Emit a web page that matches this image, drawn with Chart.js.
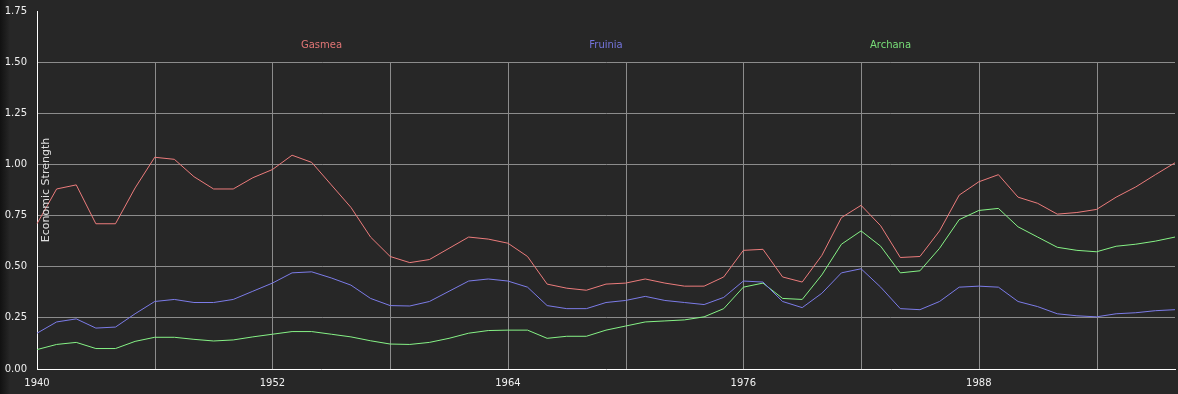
<!DOCTYPE html>
<html>
<head>
<meta charset="utf-8">
<script src="https://cdn.jsdelivr.net/npm/chart.js@4"></script>
<style>
  html, body { margin: 0; padding: 0; background: #272727; }
  #wrap {
    width: 1178px; height: 394px; position: relative;
    background: linear-gradient(to right, #111 0px, #1c1c1c 5px, #272727 10px, #272727 100%);
  }
</style>
</head>
<body>
<div id="wrap"><canvas id="chart"></canvas></div>
<script>
const CHART = document.getElementById("chart");

// one value per year, 1940 - 1998
var years = [1940, 1941, 1942, 1943, 1944, 1945, 1946, 1947, 1948, 1949,
             1950, 1951, 1952, 1953, 1954, 1955, 1956, 1957, 1958, 1959,
             1960, 1961, 1962, 1963, 1964, 1965, 1966, 1967, 1968, 1969,
             1970, 1971, 1972, 1973, 1974, 1975, 1976, 1977, 1978, 1979,
             1980, 1981, 1982, 1983, 1984, 1985, 1986, 1987, 1988, 1989,
             1990, 1991, 1992, 1993, 1994, 1995, 1996, 1997, 1998];

var gasmea = [0.71, 0.88, 0.90, 0.71, 0.71, 0.885, 1.035, 1.025, 0.94, 0.88,
              0.88, 0.935, 0.975, 1.045, 1.01, 0.90, 0.79, 0.645, 0.55, 0.52,
              0.535, 0.59, 0.645, 0.635, 0.615, 0.55, 0.415, 0.395, 0.385, 0.415,
              0.42, 0.44, 0.42, 0.405, 0.405, 0.45, 0.58, 0.585, 0.45, 0.425,
              0.555, 0.74, 0.80, 0.70, 0.545, 0.55, 0.675, 0.85, 0.915, 0.95,
              0.84, 0.81, 0.757, 0.765, 0.78, 0.84, 0.89, 0.95, 1.008];

var fruinia = [0.175, 0.23, 0.245, 0.20, 0.205, 0.27, 0.33, 0.34, 0.325, 0.325,
               0.34, 0.38, 0.42, 0.47, 0.475, 0.445, 0.41, 0.345, 0.31, 0.308,
               0.33, 0.38, 0.43, 0.44, 0.43, 0.40, 0.31, 0.295, 0.295, 0.325,
               0.335, 0.355, 0.335, 0.325, 0.315, 0.35, 0.43, 0.425, 0.33, 0.30,
               0.37, 0.47, 0.49, 0.40, 0.295, 0.29, 0.33, 0.40, 0.405, 0.40,
               0.33, 0.305, 0.27, 0.26, 0.255, 0.27, 0.275, 0.285, 0.29];

var archana = [0.095, 0.12, 0.13, 0.10, 0.10, 0.135, 0.155, 0.155, 0.145, 0.137,
               0.142, 0.157, 0.17, 0.183, 0.183, 0.17, 0.157, 0.138, 0.122, 0.12,
               0.13, 0.15, 0.175, 0.188, 0.19, 0.19, 0.15, 0.16, 0.16, 0.19,
               0.21, 0.23, 0.235, 0.24, 0.255, 0.295, 0.40, 0.42, 0.345, 0.34,
               0.46, 0.61, 0.675, 0.60, 0.47, 0.48, 0.59, 0.73, 0.775, 0.785,
               0.695, 0.645, 0.595, 0.58, 0.573, 0.60, 0.61, 0.625, 0.645];

var names = ['Gasmea', 'Fruinia', 'Archana'];
var lineColors = ['#ec7c7c', '#7c7ce8', '#86f286'];
var textColors = ['#e07575', '#7474dc', '#78de78'];
var yTicks = [0, 0.25, 0.5, 0.75, 1, 1.25, 1.5, 1.75];
var yTitle = 'Economic Strength';

const FONT = '"DejaVu Sans", Verdana, sans-serif';

// vertical grid every 6 years, from 1.50 down to the axis
const vgrid = {
    id: 'vgrid',
    beforeDatasetsDraw(chart) {
        const ctx = chart.ctx, x = chart.scales.x, y = chart.scales.y;
        const top = Math.round(y.getPixelForValue(1.5)) + 0.5;
        const bottom = chart.chartArea.bottom;
        ctx.save();
        ctx.strokeStyle = '#8c8c8c';
        ctx.lineWidth = 1;
        years.forEach(function(yr, i) {
            if (yr === years[0] || (yr - years[0]) % 6 !== 0) return;
            const px = Math.round(x.getPixelForValue(i)) + 0.5;
            ctx.beginPath();
            ctx.moveTo(px, top);
            ctx.lineTo(px, bottom);
            ctx.stroke();
        });
        ctx.restore();
    }
};

// series names inside the plot + rotated axis title
const labels = {
    id: 'labels',
    afterDraw(chart) {
        const ctx = chart.ctx, a = chart.chartArea;
        ctx.save();
        ctx.font = '10px ' + FONT;
        ctx.textAlign = 'center';
        ctx.textBaseline = 'middle';
        names.forEach(function(n, i) {
            ctx.fillStyle = textColors[i];
            ctx.fillText(n, a.left + (a.right - a.left) * (i + 1) / 4, 45);
        });
        ctx.font = '11px ' + FONT;
        ctx.translate(a.left + 9, (a.top + a.bottom) / 2);
        ctx.rotate(-Math.PI / 2);
        ctx.fillStyle = '#e0e0e0';
        ctx.fillText(yTitle, 0, 0);
        ctx.restore();
    }
};

const chart = new Chart(CHART, {
    type: 'line',
    data: {
        labels: years,
        datasets: names.map(function(n, i) {
            return {
                label: n,
                data: [gasmea, fruinia, archana][i],
                borderColor: lineColors[i],
                borderWidth: 1,
                pointRadius: 0,
                tension: 0,
                fill: false
            };
        })
    },
    options: {
        responsive: true,
        maintainAspectRatio: false,
        animation: false,
        layout: { padding: { top: 11, right: 3, left: 0, bottom: 0 } },
        plugins: { legend: { display: false }, tooltip: { enabled: false } },
        scales: {
            x: {
                type: 'category',
                offset: false,
                afterFit: function(s) { s.height = 25; s.paddingLeft = 0; s.paddingRight = 0; },
                grid: { display: false, drawTicks: false },
                border: { display: true, color: '#ffffff', width: 1 },
                ticks: {
                    autoSkip: false,
                    maxRotation: 0,
                    padding: 8,
                    color: '#f0f0f0',
                    font: { family: FONT, size: 10 },
                    callback: function(v, i) {
                        return (years[i] - years[0]) % 12 === 0 ? String(years[i]) : '';
                    }
                }
            },
            y: {
                min: 0,
                max: 1.75,
                afterFit: function(s) { s.width = 37; s.paddingTop = 0; s.paddingBottom = 0; },
                afterBuildTicks: function(s) { s.ticks = yTicks.map(function(v) { return { value: v }; }); },
                grid: {
                    drawTicks: false,
                    lineWidth: 1,
                    color: function(c) {
                        return (c.tick && (c.tick.value === 0 || c.tick.value === 1.75)) ? 'rgba(0,0,0,0)' : '#8c8c8c';
                    }
                },
                border: { display: true, color: '#ffffff', width: 1 },
                ticks: {
                    padding: 10,
                    color: '#f0f0f0',
                    font: { family: FONT, size: 10 },
                    callback: function(v) { return v.toFixed(2); }
                }
            }
        }
    },
    plugins: [vgrid, labels]
});
</script>
</body>
</html>
